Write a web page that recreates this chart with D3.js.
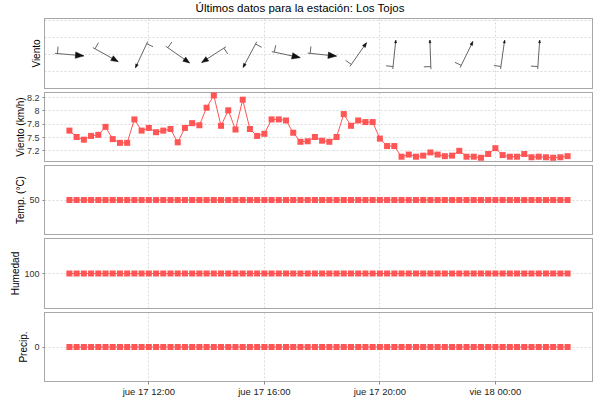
<!DOCTYPE html>
<html>
<head>
<meta charset="utf-8">
<script src="https://cdn.jsdelivr.net/npm/d3@7"></script>
<style>
body { margin: 0; background: #fff; }
svg { display: block; font-family: "Liberation Sans", Arial, sans-serif; }
</style>
</head>
<body>
<script>
// observation times, every 15 minutes
const times = [
  "2015-09-17T09:15", "2015-09-17T09:30", "2015-09-17T09:45",
  "2015-09-17T10:00", "2015-09-17T10:15", "2015-09-17T10:30", "2015-09-17T10:45",
  "2015-09-17T11:00", "2015-09-17T11:15", "2015-09-17T11:30", "2015-09-17T11:45",
  "2015-09-17T12:00", "2015-09-17T12:15", "2015-09-17T12:30", "2015-09-17T12:45",
  "2015-09-17T13:00", "2015-09-17T13:15", "2015-09-17T13:30", "2015-09-17T13:45",
  "2015-09-17T14:00", "2015-09-17T14:15", "2015-09-17T14:30", "2015-09-17T14:45",
  "2015-09-17T15:00", "2015-09-17T15:15", "2015-09-17T15:30", "2015-09-17T15:45",
  "2015-09-17T16:00", "2015-09-17T16:15", "2015-09-17T16:30", "2015-09-17T16:45",
  "2015-09-17T17:00", "2015-09-17T17:15", "2015-09-17T17:30", "2015-09-17T17:45",
  "2015-09-17T18:00", "2015-09-17T18:15", "2015-09-17T18:30", "2015-09-17T18:45",
  "2015-09-17T19:00", "2015-09-17T19:15", "2015-09-17T19:30", "2015-09-17T19:45",
  "2015-09-17T20:00", "2015-09-17T20:15", "2015-09-17T20:30", "2015-09-17T20:45",
  "2015-09-17T21:00", "2015-09-17T21:15", "2015-09-17T21:30", "2015-09-17T21:45",
  "2015-09-17T22:00", "2015-09-17T22:15", "2015-09-17T22:30", "2015-09-17T22:45",
  "2015-09-17T23:00", "2015-09-17T23:15", "2015-09-17T23:30", "2015-09-17T23:45",
  "2015-09-18T00:00", "2015-09-18T00:15", "2015-09-18T00:30", "2015-09-18T00:45",
  "2015-09-18T01:00", "2015-09-18T01:15", "2015-09-18T01:30", "2015-09-18T01:45",
  "2015-09-18T02:00", "2015-09-18T02:15", "2015-09-18T02:30"
];

const windSpeed = [
  7.63, 7.51, 7.46, 7.53, 7.55, 7.70, 7.47, 7.40, 7.40, 7.84,
  7.63, 7.68, 7.60, 7.63, 7.66, 7.41, 7.68, 7.77, 7.73, 8.06,
  8.29, 7.72, 8.01, 7.65, 8.21, 7.66, 7.53, 7.57, 7.84, 7.84,
  7.82, 7.59, 7.42, 7.43, 7.51, 7.44, 7.42, 7.51, 7.94, 7.72,
  7.82, 7.79, 7.79, 7.48, 7.34, 7.34, 7.14, 7.18, 7.14, 7.16,
  7.22, 7.18, 7.15, 7.16, 7.25, 7.14, 7.14, 7.12, 7.19, 7.30,
  7.17, 7.14, 7.14, 7.19, 7.13, 7.14, 7.13, 7.12, 7.13, 7.15
];

const temperature = [
  50, 50, 50, 50, 50, 50, 50, 50, 50, 50,
  50, 50, 50, 50, 50, 50, 50, 50, 50, 50,
  50, 50, 50, 50, 50, 50, 50, 50, 50, 50,
  50, 50, 50, 50, 50, 50, 50, 50, 50, 50,
  50, 50, 50, 50, 50, 50, 50, 50, 50, 50,
  50, 50, 50, 50, 50, 50, 50, 50, 50, 50,
  50, 50, 50, 50, 50, 50, 50, 50, 50, 50
];

const humidity = [
  100, 100, 100, 100, 100, 100, 100, 100, 100, 100,
  100, 100, 100, 100, 100, 100, 100, 100, 100, 100,
  100, 100, 100, 100, 100, 100, 100, 100, 100, 100,
  100, 100, 100, 100, 100, 100, 100, 100, 100, 100,
  100, 100, 100, 100, 100, 100, 100, 100, 100, 100,
  100, 100, 100, 100, 100, 100, 100, 100, 100, 100,
  100, 100, 100, 100, 100, 100, 100, 100, 100, 100
];

const precipitation = [
  0, 0, 0, 0, 0, 0, 0, 0, 0, 0,
  0, 0, 0, 0, 0, 0, 0, 0, 0, 0,
  0, 0, 0, 0, 0, 0, 0, 0, 0, 0,
  0, 0, 0, 0, 0, 0, 0, 0, 0, 0,
  0, 0, 0, 0, 0, 0, 0, 0, 0, 0,
  0, 0, 0, 0, 0, 0, 0, 0, 0, 0,
  0, 0, 0, 0, 0, 0, 0, 0, 0, 0
];

// wind direction (degrees, where the wind comes from), one arrow every 5 readings
const barbTimes = [
  "2015-09-17T09:15", "2015-09-17T10:30", "2015-09-17T11:45", "2015-09-17T13:00",
  "2015-09-17T14:15", "2015-09-17T15:30", "2015-09-17T16:45", "2015-09-17T18:00",
  "2015-09-17T19:15", "2015-09-17T20:30", "2015-09-17T21:45", "2015-09-17T23:00",
  "2015-09-18T00:15", "2015-09-18T01:30"
];
const barbDirFrom = [275, 299, 25, 305, 57, 28, 282, 276, 215, 186, 178, 206, 188, 184];

const speedTicks = [7.25, 7.5, 7.75, 8, 8.25];
const speedTickLabels = ["7.2", "7.5", "7.8", "8", "8.2"];

const W = 600, H = 400;
const left = 44.5, right = 592.5;
const red = "#ff5555";
const gridColor = "#dadada";

const parse = d3.timeParse("%Y-%m-%dT%H:%M");
const dates = times.map(parse);

const es = d3.timeFormatLocale({
  dateTime: "%A, %e de %B de %Y, %X", date: "%d/%m/%Y", time: "%H:%M:%S",
  periods: ["AM", "PM"],
  days: ["domingo", "lunes", "martes", "miércoles", "jueves", "viernes", "sábado"],
  shortDays: ["dom", "lun", "mar", "mié", "jue", "vie", "sáb"],
  months: ["enero", "febrero", "marzo", "abril", "mayo", "junio", "julio", "agosto", "septiembre", "octubre", "noviembre", "diciembre"],
  shortMonths: ["ene", "feb", "mar", "abr", "may", "jun", "jul", "ago", "sep", "oct", "nov", "dic"]
});
const fmt = es.format("%a %d %H:%M");

// 5% margin either side, like the original chart
const ext = d3.extent(dates);
const pad = (ext[1] - ext[0]) * 0.05;
const x = d3.scaleTime()
  .domain([new Date(+ext[0] - pad), new Date(+ext[1] + pad)])
  .range([left, right]);
const xTicks = x.ticks(d3.timeHour.every(4));

const panels = [
  { label: "Viento", top: 18.5, bottom: 88.5, domain: [0, 4.13], grid: [1, 2, 3, 4], ticks: [], tickLabels: [], labelX: 36.5 },
  { label: "Viento (km/h)", top: 92.5, bottom: 161.5, domain: [7.05, 8.345], values: windSpeed,
    grid: speedTicks, ticks: speedTicks, tickLabels: speedTickLabels, labelX: 20 },
  { label: "Temp. (°C)", top: 165.5, bottom: 234.5, domain: [45, 55], values: temperature,
    grid: [50], ticks: [50], tickLabels: ["50"], labelX: 20.5 },
  { label: "Humedad", top: 238.5, bottom: 308.5, domain: [95, 105], values: humidity,
    grid: [100], ticks: [100], tickLabels: ["100"], labelX: 15 },
  { label: "Precip.", top: 312.5, bottom: 381.5, domain: [-1, 1], values: precipitation,
    grid: [0], ticks: [0], tickLabels: ["0"], labelX: 23 }
];

const svg = d3.select("body").append("svg")
  .attr("width", W).attr("height", H)
  .attr("viewBox", "0 0 " + W + " " + H);

svg.append("rect").attr("width", W).attr("height", H).attr("fill", "#fff");

svg.append("text")
  .attr("x", W / 2).attr("y", 12)
  .attr("text-anchor", "middle")
  .attr("font-size", 11.5)
  .attr("fill", "#000")
  .text("Últimos datos para la estación: Los Tojos");

const crisp = v => Math.round(v - 0.5) + 0.5;

panels.forEach((p, pi) => {
  const y = d3.scaleLinear().domain(p.domain).range([p.bottom, p.top]);
  const g = svg.append("g");

  // vertical grid
  g.selectAll(".vg").data(xTicks).enter().append("line")
    .attr("x1", d => crisp(x(d))).attr("x2", d => crisp(x(d)))
    .attr("y1", p.top).attr("y2", p.bottom)
    .attr("stroke", gridColor).attr("stroke-dasharray", "2,2");

  // horizontal grid
  g.selectAll(".hg").data(p.grid).enter().append("line")
    .attr("x1", left).attr("x2", right)
    .attr("y1", d => crisp(y(d))).attr("y2", d => crisp(y(d)))
    .attr("stroke", gridColor).attr("stroke-dasharray", "2,2");

  // outline
  g.append("rect")
    .attr("x", left).attr("y", p.top)
    .attr("width", right - left).attr("height", p.bottom - p.top)
    .attr("fill", "none").attr("stroke", "#a8a8a8");

  // y ticks
  g.selectAll(".yt").data(p.ticks).enter().append("line")
    .attr("x1", left - 2).attr("x2", left)
    .attr("y1", d => crisp(y(d))).attr("y2", d => crisp(y(d)))
    .attr("stroke", "#888");
  g.selectAll(".yl").data(p.ticks).enter().append("text")
    .attr("x", left - 5).attr("y", d => y(d))
    .attr("dy", "0.35em")
    .attr("text-anchor", "end")
    .attr("font-size", 9)
    .attr("fill", "#333")
    .text((d, i) => p.tickLabels[i]);

  // axis label
  g.append("text")
    .attr("transform", "translate(" + p.labelX + "," + ((p.top + p.bottom) / 2) + ") rotate(-90)")
    .attr("dy", "0.35em")
    .attr("text-anchor", "middle")
    .attr("font-size", 10)
    .attr("fill", "#000")
    .text(p.label);

  if (p.values) {
    const pts = p.values.map((v, i) => [dates[i], v]);
    g.append("path")
      .datum(pts)
      .attr("fill", "none")
      .attr("stroke", red)
      .attr("stroke-width", 1)
      .attr("d", d3.line().x(d => x(d[0])).y(d => y(d[1])));
    g.selectAll(".pt").data(pts).enter().append("rect")
      .attr("x", d => x(d[0]) - 3).attr("y", d => y(d[1]) - 3)
      .attr("width", 6).attr("height", 6)
      .attr("fill", red);
  } else {
    // wind arrows centred on the reading, pointing where the wind goes
    const L = 29;
    barbTimes.forEach((t, i) => {
      const b = (barbDirFrom[i] + 180) * Math.PI / 180;
      const ux = Math.sin(b), uy = -Math.cos(b);
      const px = -Math.cos(b), py = -Math.sin(b);
      const cx = x(parse(t)), cy = y(2);
      const tx = cx - ux * L / 2, ty = cy - uy * L / 2;
      const hx = cx + ux * L / 2, hy = cy + uy * L / 2;
      g.append("line")
        .attr("x1", tx).attr("y1", ty).attr("x2", hx).attr("y2", hy)
        .attr("stroke", "#666").attr("stroke-width", 1);
      // feather at the tail
      const fx = tx + ux * 2.5, fy = ty + uy * 2.5;
      g.append("line")
        .attr("x1", fx).attr("y1", fy)
        .attr("x2", fx + px * 7).attr("y2", fy + py * 7)
        .attr("stroke", "#666").attr("stroke-width", 1);
      // head
      const s = 2 + 4.5 * ux * ux;
      const bx = hx - ux * s * 1.3, by = hy - uy * s * 1.3;
      g.append("path")
        .attr("d", "M" + hx + "," + hy +
          "L" + (bx + px * s * 0.5) + "," + (by + py * s * 0.5) +
          "L" + (bx - px * s * 0.5) + "," + (by - py * s * 0.5) + "Z")
        .attr("fill", "#111").attr("stroke", "#111").attr("stroke-width", 0.5);
    });
  }
});

// time axis
const last = panels[panels.length - 1];
svg.selectAll(".xt").data(xTicks).enter().append("line")
  .attr("x1", d => crisp(x(d))).attr("x2", d => crisp(x(d)))
  .attr("y1", last.bottom).attr("y2", last.bottom + 3)
  .attr("stroke", "#888");
svg.selectAll(".xl").data(xTicks).enter().append("text")
  .attr("x", d => x(d)).attr("y", last.bottom + 13)
  .attr("text-anchor", "middle")
  .attr("font-size", 9.5)
  .attr("fill", "#222")
  .text(d => fmt(d));
</script>
</body>
</html>
